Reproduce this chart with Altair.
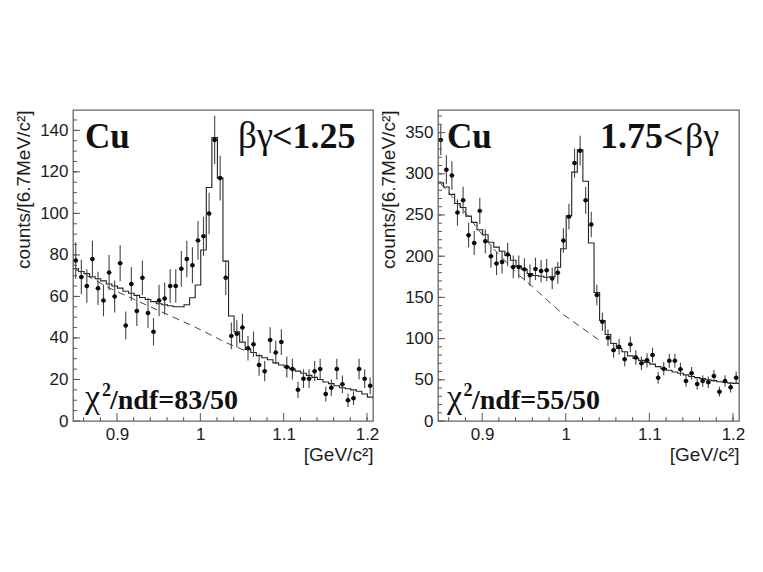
import altair as alt
import pandas as pd

centers = [0.8505,0.8572,0.8638,0.8705,0.8772,0.8838,0.8905,0.8972,0.9038,0.9105,0.9172,0.9238,0.9305,0.9372,0.9438,0.9505,0.9572,0.9638,
           0.9705,0.9772,0.9838,0.9905,0.9972,1.0038,1.0105,1.0172,1.0238,1.0305,1.0372,1.0438,1.0505,1.0572,1.0638,1.0705,1.0772,1.0838,
           1.0905,1.0972,1.1038,1.1105,1.1172,1.1238,1.1305,1.1372,1.1438,1.1505,1.1572,1.1638,1.1705,1.1772,1.1838,1.1905,1.1972,1.2038]
half_bin = 0.00333
x_domain = [0.8472, 1.2072]

left_counts = [77.3,69.4,65,78,63.9,58,71.5,60,76,46,66,53,69,52,43,58,59,65,65,73.3,78,75,87,89,100,135.4,117,69,
               41,42,45,35,37,27,24,39,33,38,26,25,15,20.4,20.4,24,25,13,16,25,17.7,10,11,25,20.4,17]
left_errors = [8.8,8.3,8.1,8.8,8.0,7.6,8.5,7.7,8.7,6.8,8.1,7.3,8.3,7.2,6.6,7.6,7.7,8.1,8.1,8.6,8.8,8.7,9.3,9.4,10,11.6,10.8,8.3,
               6.4,6.5,6.7,5.9,6.1,5.2,4.9,6.2,5.7,6.2,5.1,5,3.9,4.5,4.5,4.9,5,3.6,4,5,4.2,3.2,3.3,5,4.5,4.1]
left_fit = [73.3,72,71,69.5,68.5,67.5,66,65,64,62.5,61.5,60.5,59.5,58.5,57.5,56.5,56,55.5,55,55,56,59.4,65.5,82.4,112.5,136.5,117,77,
            50.6,43,38,34.5,33,31.5,30.5,29.5,28,27,26,25,24,23,22,21,20,18.8,18,17,16,15.5,15,14.3,13,11.5]
left_bg_x = [0.8505,0.891,0.951,0.991,1.031,1.055]
left_bg_y = [73,64,53,45.8,37.7,33.7]

right_counts = [341,305,298,253,268,225.5,216,255,218,200,191,193,202,187,187,184,177,184.6,182,183,173,180,219,248,313,328,268,238.5,
                153,120.5,101,86,90,75,93,77,70,73.6,80,52.6,63.5,73,73,62.7,48.5,58,45,48.5,47,54.6,35.6,48.5,41,52.6]
right_errors = [18.5,17.5,17.3,15.9,16.4,15,14.7,16,14.8,14.1,13.8,13.9,14.2,13.7,13.7,13.6,13.3,13.6,13.5,13.5,13.2,13.4,14.8,15.7,17.7,18.1,16.4,15.4,
                12.4,11,10,9.3,9.5,8.7,9.6,8.8,8.4,8.6,8.9,7.3,8,8.5,8.5,7.9,7,7.6,6.7,7,6.9,7.4,6,7,6.4,7.3]
right_fit = [289,284,275,264,259,248.6,241,232,226,217,211,206,200.8,195,188,184,179,176.5,175.7,174.5,175,186.6,209,249,302,329,291,216,
             156,122,105,94,88,84,79,76,73.6,71,69,66,63.5,61.5,59.5,58,56,54,52.6,51.4,50,49,47.7,47,46,45.7]
right_bg_x = [0.8505,0.8707,0.9108,0.9427,0.9568,0.9968,1.0429]
right_bg_y = [288,265,212,178,166,129.4,96]

x_major = [0.9,1.0,1.1,1.2]
x_minor = [0.86,0.88,0.92,0.94,0.96,0.98,1.02,1.04,1.06,1.08,1.12,1.14,1.16,1.18,1.2]
left_y_major = [0,20,40,60,80,100,120,140]
left_y_minor = list(range(5,150,5))
right_y_major = [0,50,100,150,200,250,300,350]
right_y_minor = list(range(10,380,10))

SERIF = "Liberation Serif"
SANS = "Liberation Sans"
INK = "#1c1c1c"

def text(t, px, py, size, bold=True):
    return alt.Chart(pd.DataFrame({"t":[t]})).mark_text(
        font=SERIF, fontSize=size, fontWeight="bold" if bold else "normal",
        align="left", baseline="alphabetic", color="#111111"
    ).encode(x=alt.value(px), y=alt.value(py), text="t:N")

def panel(counts, errors, fit, bg_x, bg_y, y_domain, y_major, y_minor, width, labels):
    xs = alt.Scale(domain=x_domain, nice=False, zero=False)
    ys = alt.Scale(domain=y_domain, nice=False, zero=False)
    pts = pd.DataFrame({"x":centers,"y":counts,"e":errors})
    pts["lo"] = pts.y-pts.e; pts["hi"] = pts.y+pts.e
    pts["xl"] = pts.x-half_bin*0.85; pts["xh"] = pts.x+half_bin*0.85
    hist = pd.DataFrame([{"x":c+s*half_bin,"y":v,"o":2*i+(s>0)} for i,(c,v) in enumerate(zip(centers,fit)) for s in (-1,1)])
    X = alt.X("x:Q", scale=xs, title="[GeV/c²]",
              axis=alt.Axis(values=x_major, ticks=False, grid=False, domain=False, labelFont=SANS, labelFontSize=17,
                            labelColor=INK, labelPadding=5, format="~g", labelFlush=False, titleFont=SANS, titleFontSize=19,
                            titleFontWeight="normal", titleColor=INK, titleAnchor="end", titlePadding=3))
    Y = alt.Y("y:Q", scale=ys, title="counts/[6.7MeV/c²]",
              axis=alt.Axis(values=y_major, ticks=False, grid=False, domain=False, labelFont=SANS, labelFontSize=17,
                            labelColor=INK, labelPadding=5, titleFont=SANS, titleFontSize=19, titleFontWeight="normal",
                            titleColor=INK, titleAnchor="end", titlePadding=6))
    layers = [
        alt.Chart(hist).mark_line(color="#222222", strokeWidth=1.1, clip=True).encode(x=X, y=Y, order="o:Q"),
        alt.Chart(pd.DataFrame({"x":bg_x,"y":bg_y})).mark_line(color="#444444", strokeWidth=1, strokeDash=[7,5]).encode(
            x=alt.X("x:Q",scale=xs), y=alt.Y("y:Q",scale=ys)),
        alt.Chart(pts).mark_rule(color="#444444", strokeWidth=1.1).encode(x=alt.X("x:Q",scale=xs), y=alt.Y("lo:Q",scale=ys), y2="hi:Q"),
        alt.Chart(pts).mark_rule(color="#111111", strokeWidth=1.1).encode(x=alt.X("xl:Q",scale=xs), x2="xh:Q", y=alt.Y("y:Q",scale=ys)),
        alt.Chart(pts).mark_point(filled=True, color="#0a0a0a", size=20, opacity=1).encode(x=alt.X("x:Q",scale=xs), y=alt.Y("y:Q",scale=ys)),
        alt.Chart(pd.DataFrame({"v":x_major})).mark_rule(color="#555555", strokeWidth=1).encode(x=alt.X("v:Q",scale=xs), y=alt.value(311), y2=alt.value(303)),
        alt.Chart(pd.DataFrame({"v":x_minor})).mark_rule(color="#555555", strokeWidth=1).encode(x=alt.X("v:Q",scale=xs), y=alt.value(311), y2=alt.value(307)),
        alt.Chart(pd.DataFrame({"v":y_major})).mark_rule(color="#555555", strokeWidth=1).encode(y=alt.Y("v:Q",scale=ys), x=alt.value(0), x2=alt.value(7)),
        alt.Chart(pd.DataFrame({"v":y_minor})).mark_rule(color="#555555", strokeWidth=1).encode(y=alt.Y("v:Q",scale=ys), x=alt.value(0), x2=alt.value(4)),
    ] + labels
    return alt.layer(*layers).properties(width=width, height=311)

left = panel(left_counts, left_errors, left_fit, left_bg_x, left_bg_y, [0,149.8], left_y_major, left_y_minor, 300, [
    text("Cu", 12, 38, 35),
    text("βγ", 165, 38, 37, bold=False),
    text("<1.25", 199, 38, 36),
    text("χ", 12, 298, 34, bold=False),
    text("2", 29, 286, 18),
    text("/ndf=83/50", 37, 299, 28),
])
right = panel(right_counts, right_errors, right_fit, right_bg_x, right_bg_y, [0,377.4], right_y_major, right_y_minor, 301, [
    text("Cu", 9, 38, 35),
    text("1.75<", 162, 38, 36),
    text("βγ", 247, 38, 36, bold=False),
    text("χ", 9, 298, 34, bold=False),
    text("2", 25.5, 286, 18),
    text("/ndf=55/50", 34, 299, 28),
])

chart = alt.hconcat(left, right, spacing=65, bounds="flush").properties(
    padding={"left":5,"top":101,"right":0,"bottom":0}, background="white"
).configure_view(stroke="#666666", strokeWidth=1.3)

chart.save("out.html", embed_options={"renderer": "svg", "actions": False})
